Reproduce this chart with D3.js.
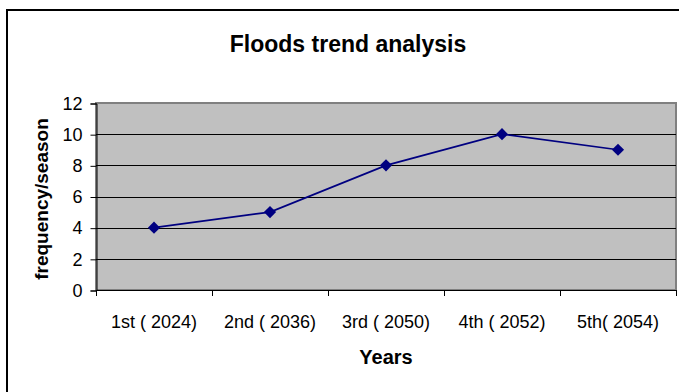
<!DOCTYPE html>
<html>
<head>
<meta charset="utf-8">
<script src="https://cdn.jsdelivr.net/npm/d3@7"></script>
<style>
  html, body { margin: 0; padding: 0; background: #fff; }
  svg { display: block; font-family: Arial, "Liberation Sans", sans-serif; }
</style>
</head>
<body>
<svg id="chart" width="679" height="392"></svg>
<script>
// Flood frequency per season across five projected periods
const categories = ["1st ( 2024)", "2nd ( 2036)", "3rd ( 2050)", "4th ( 2052)", "5th( 2054)"];
const values = [4, 5, 8, 10, 9];
const yTicks = [0, 2, 4, 6, 8, 10, 12];
const titleText = "Floods trend analysis";
const xTitle = "Years";
const yTitle = "frequency/season";

const svg = d3.select("#chart");
const plot = { left: 96, top: 103, right: 676, bottom: 290 };

// Chart frame (extends past the right and bottom edges)
svg.append("rect")
  .attr("x", 7).attr("y", 10)
  .attr("width", 700).attr("height", 400)
  .attr("fill", "#fff").attr("stroke", "#000").attr("stroke-width", 2);

const x = d3.scaleBand().domain(categories).range([plot.left, plot.right]).padding(0);
const y = d3.scaleLinear().domain([0, 12]).range([plot.bottom, plot.top]);

// Plot area background
svg.append("rect")
  .attr("x", plot.left).attr("y", plot.top)
  .attr("width", plot.right - plot.left).attr("height", plot.bottom - plot.top)
  .attr("fill", "#c0c0c0").attr("stroke", "#808080").attr("stroke-width", 2);

// Horizontal gridlines
svg.append("g").selectAll("line")
  .data(yTicks.filter(t => t > 0 && t < 12))
  .join("line")
  .attr("x1", plot.left).attr("x2", plot.right)
  .attr("y1", d => Math.round(y(d)) + 0.5).attr("y2", d => Math.round(y(d)) + 0.5)
  .attr("stroke", "#000").attr("stroke-width", 1);

// Y axis
const yAxis = d3.axisLeft(y).tickValues(yTicks).tickSize(6).tickPadding(8).tickFormat(d3.format("d"));
const gy = svg.append("g").attr("transform", `translate(${plot.left + 0.5},0.5)`).call(yAxis);
gy.select(".domain").attr("stroke", "#000");
gy.selectAll(".tick line").attr("stroke", "#000");
gy.selectAll(".tick text").attr("fill", "#000").style("font-size", "18px").style("font-family", "Arial, 'Liberation Sans', sans-serif");

// X axis with ticks at category boundaries
const bounds = categories.map(c => x(c)).concat([plot.right]);
const gx = svg.append("g");
gx.append("line")
  .attr("x1", plot.left).attr("x2", plot.right)
  .attr("y1", plot.bottom + 0.5).attr("y2", plot.bottom + 0.5)
  .attr("stroke", "#000");
gx.selectAll("line.tick").data(bounds).join("line").attr("class", "tick")
  .attr("x1", d => Math.round(d) + 0.5).attr("x2", d => Math.round(d) + 0.5)
  .attr("y1", plot.bottom).attr("y2", plot.bottom + 6)
  .attr("stroke", "#000");
gx.selectAll("text").data(categories).join("text")
  .attr("x", d => x(d) + x.bandwidth() / 2)
  .attr("y", 328)
  .attr("text-anchor", "middle")
  .style("font-size", "18px")
  .text(d => d);

// Series line and diamond markers
const cx = d => x(d) + x.bandwidth() / 2;
const line = d3.line().x((d, i) => cx(categories[i])).y(d => y(d));
svg.append("path")
  .datum(values)
  .attr("d", line)
  .attr("fill", "none").attr("stroke", "#000080").attr("stroke-width", 1.75);

svg.append("g").selectAll("path")
  .data(values)
  .join("path")
  .attr("transform", (d, i) => `translate(${cx(categories[i])},${y(d)}) rotate(45)`)
  .attr("d", d3.symbol().type(d3.symbolSquare).size(74))
  .attr("fill", "#000080");

// Titles
svg.append("text")
  .attr("x", 348).attr("y", 52)
  .attr("text-anchor", "middle")
  .style("font-size", "23px").style("font-weight", "bold")
  .text(titleText);

svg.append("text")
  .attr("x", (plot.left + plot.right) / 2).attr("y", 364)
  .attr("text-anchor", "middle")
  .style("font-size", "20px").style("font-weight", "bold")
  .text(xTitle);

svg.append("text")
  .attr("transform", `translate(48,199) rotate(-90)`)
  .attr("text-anchor", "middle")
  .style("font-size", "19px").style("font-weight", "bold")
  .text(yTitle);
</script>
</body>
</html>
